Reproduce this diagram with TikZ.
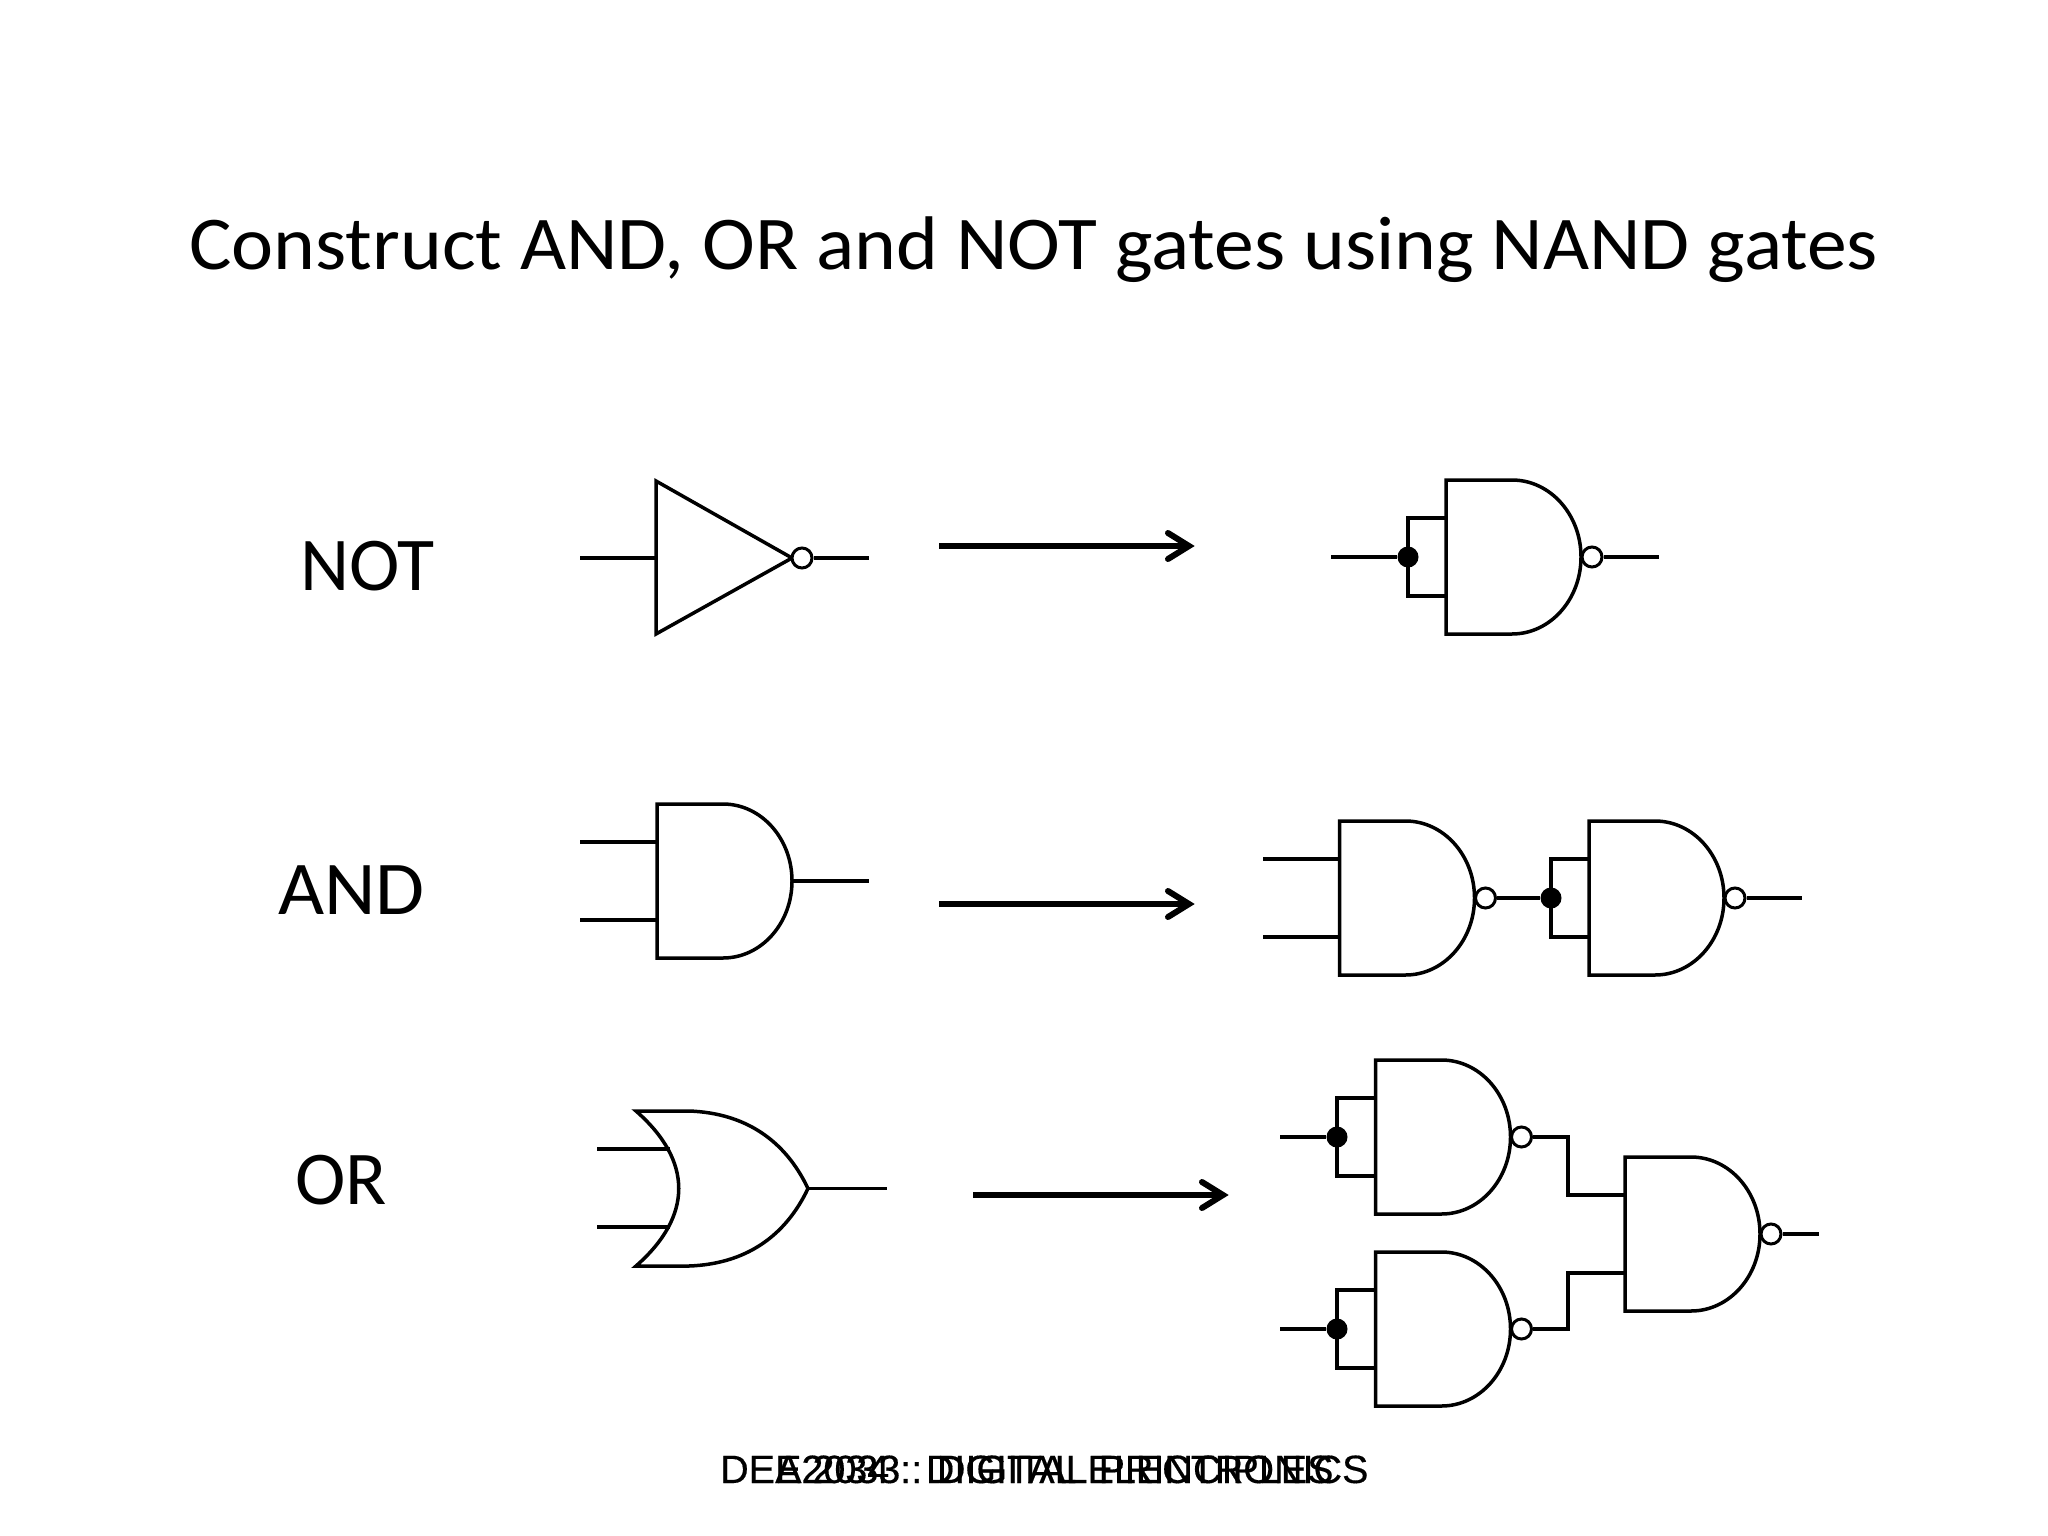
\documentclass[tikz,border=0pt]{standalone}
\usepackage{fontspec}
\setmainfont{Carlito}
\newfontfamily\titlefont[FakeStretch=1.048]{Carlito}
\newfontfamily\footfont[FakeBold=0.4]{Liberation Sans}
\tikzset{
  x=1pt,y=-1pt,
  wire/.style={line width=3.1pt,line cap=butt,line join=miter},
  body/.style={line width=3.5pt,line join=miter,fill=white},
  bubble/.style={circle,draw,line width=3pt,fill=white,inner sep=0pt,minimum size=20pt},
  junction/.style={circle,fill=black,inner sep=0pt,minimum size=21pt},
  label/.style={font=\fontsize{76}{90}\selectfont,anchor=base west,inner sep=0pt},
  title/.style={font=\titlefont\fontsize{76}{90}\selectfont,anchor=base west,inner sep=0pt},
  footer/.style={font=\footfont\fontsize{39.5}{48}\selectfont,anchor=base west,inner sep=0pt},
  fat/.style={line width=6pt,line join=miter,line cap=butt},
  barb/.style={line width=6pt,line join=miter,line cap=round}
}
% AND outline with named pins: #1 name, #2 left x, #3 centre y
\newcommand{\andbody}[3]{
  \draw[body] (#2,#3-77) -- (#2+66,#3-77) arc[start angle=90,end angle=-90,x radius=69pt,y radius=77pt] -- (#2,#3+77) -- cycle;
  \coordinate (#1-a) at (#2,#3-39);
  \coordinate (#1-b) at (#2,#3+39);
  \coordinate (#1-o) at (#2+135,#3);
}
\newcommand{\nandbody}[3]{
  \andbody{#1}{#2}{#3}
  \node[bubble] (#1-n) at (#2+146,#3) {};
}
\newcommand{\bigarrow}[4]{
  \coordinate (#1-s) at (#2,#4);
  \coordinate (#1-t) at (#3-5,#4);
  \coordinate (#1-u) at (#3-26,#4-13);
  \coordinate (#1-l) at (#3-26,#4+13);
  \draw[fat] (#1-s) -- (#1-t);
  \draw[barb] (#1-u) -- (#1-t) -- (#1-l);
}
\begin{document}
\begin{tikzpicture}
\useasboundingbox (0,0) rectangle (2048,1536);
\fill[white] (0,0) rectangle (2048,1536);

\node[title] (ttl) at (189,269) {Construct AND, OR and NOT gates using NAND gates};
\node[label] (lnot) at (300,590) {NOT};
\node[title] (land) at (278,914) {AND};
\node[label] (lor) at (295,1204) {OR};

% NOT symbol
\coordinate (ni) at (580,558);
\coordinate (ne) at (869,558);
\coordinate (nl) at (656,558);
\draw[wire] (ni) -- (nl);
\draw[body] (656,481) -- (792,558) -- (656,634) -- cycle;
\node[bubble] (nb) at (802,558) {};
\draw[wire] (nb) -- (ne);
\bigarrow{a1}{939}{1194}{546}

% NOT from NAND
\coordinate (n1in) at (1331,557);
\coordinate (n1out) at (1659,557);
\coordinate (n1top) at (1408,518);
\coordinate (n1bot) at (1408,596);
\nandbody{n1}{1446}{557}
\node[junction] (n1j) at (1408,557) {};
\draw[wire] (n1in) -- (n1j);
\draw[wire] (n1-a) -- (n1top) -- (n1bot) -- (n1-b);
\draw[wire] (n1-n) -- (n1out);

% AND symbol
\coordinate (ai1) at (580,842);
\coordinate (ai2) at (580,920);
\coordinate (ao) at (869,881);
\andbody{as}{657}{881}
\draw[wire] (ai1) -- (as-a);
\draw[wire] (ai2) -- (as-b);
\draw[wire] (as-o) -- (ao);
\bigarrow{a2}{939}{1194}{904}

% AND from NAND
\coordinate (gi1) at (1263,859);
\coordinate (gi2) at (1263,937);
\coordinate (gout) at (1802,898);
\nandbody{ga}{1339.5}{898}
\nandbody{gb}{1589}{898}
\draw[wire] (gi1) -- (ga-a);
\draw[wire] (gi2) -- (ga-b);
\node[junction] (gj) at (1551,898) {};
\coordinate (gtop) at (1551,859);
\coordinate (gbot) at (1551,937);
\draw[wire] (ga-n) -- (gj);
\draw[wire] (gb-a) -- (gtop) -- (gbot) -- (gb-b);
\draw[wire] (gb-n) -- (gout);

% OR symbol
\coordinate (oi1) at (597,1149);
\coordinate (oi2) at (597,1227);
\coordinate (oe1) at (670,1149);
\coordinate (oe2) at (670,1227);
\coordinate (oo) at (808,1188.5);
\coordinate (oq) at (887,1188.5);
\draw[wire] (oi1) -- (oe1);
\draw[wire] (oi2) -- (oe2);
\draw[body,fill=none] (636,1111) -- (689,1111) .. controls (745,1113) and (785,1140) .. (oo)
  .. controls (785,1237) and (745,1264) .. (689,1266) -- (636,1266)
  .. controls (693,1216) and (693,1161) .. cycle;
\draw[wire] (oo) -- (oq);
\bigarrow{a3}{973}{1228}{1195}

% OR from NAND
\nandbody{p1}{1375.5}{1137}
\nandbody{p2}{1375.5}{1329}
\nandbody{p3}{1625}{1234}
\coordinate (p1in) at (1280,1137);
\coordinate (p2in) at (1280,1329);
\node[junction] (p1j) at (1337,1137) {};
\node[junction] (p2j) at (1337,1329) {};
\coordinate (p1t) at (1337,1098);
\coordinate (p1u) at (1337,1176);
\coordinate (p2t) at (1337,1290);
\coordinate (p2u) at (1337,1368);
\draw[wire] (p1in) -- (p1j);
\draw[wire] (p2in) -- (p2j);
\draw[wire] (p1-a) -- (p1t) -- (p1u) -- (p1-b);
\draw[wire] (p2-a) -- (p2t) -- (p2u) -- (p2-b);
\coordinate (k1) at (1568,1137);
\coordinate (k2) at (1568,1195);
\coordinate (k3) at (1568,1329);
\coordinate (k4) at (1568,1273);
\draw[wire] (p1-n) -- (k1) -- (k2) -- (p3-a);
\draw[wire] (p2-n) -- (k3) -- (k4) -- (p3-b);
\coordinate (pout) at (1819,1234);
\draw[wire] (p3-n) -- (pout);

% footers
\node[footer] (f1) at (720,1483) {DEE2034 : DIGITAL ELECTRONICS};
\node[footer] (f2) at (775,1483) {A 2033 : DIGITAL PRINCIPLES};
\end{tikzpicture}
\end{document}
